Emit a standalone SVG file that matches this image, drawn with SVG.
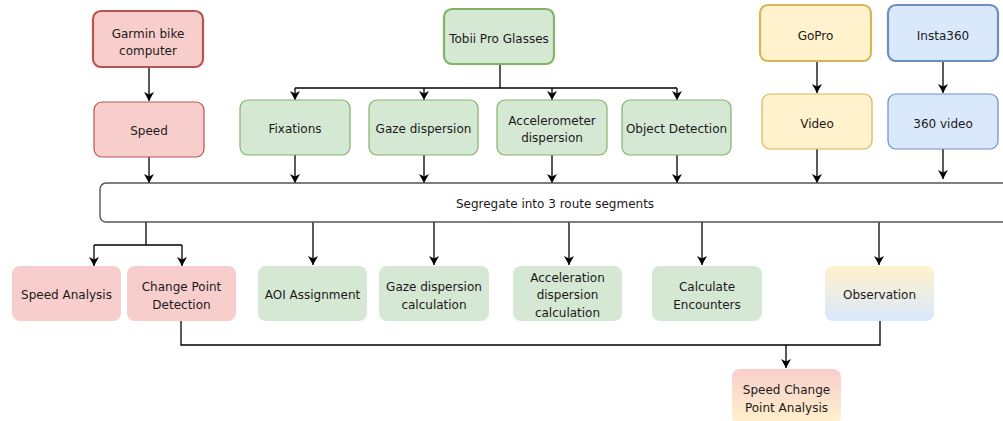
<svg xmlns="http://www.w3.org/2000/svg" width="1003" height="421" viewBox="0 0 1003 421">
<style>
text{font-family:"DejaVu Sans",Verdana,sans-serif;font-size:12px;fill:#1a1a1a;text-anchor:middle}
.red{fill:#f8cecc;stroke:#b85450}
.grn{fill:#d5e8d4;stroke:#82b366}
.yel{fill:#fff2cc;stroke:#d6b656}
.blu{fill:#dae8fc;stroke:#6c8ebf}
.thick{stroke-width:2.2}
.thin{stroke-width:1.2}
.nost{stroke:none}
.c{fill:none;stroke:#000;stroke-width:1.3}
.a{marker-end:url(#arr)}
</style>
<defs>
<marker id="arr" markerUnits="userSpaceOnUse" markerWidth="10" markerHeight="10" refX="9" refY="5" orient="auto">
<path d="M0,0 L9,5 L0,10 L2.5,5 z" fill="#000"/>
</marker>
<linearGradient id="gObs" x1="0" y1="0" x2="0" y2="1"><stop offset="0" stop-color="#fff2cc"/><stop offset="1" stop-color="#dae8fc"/></linearGradient>
<linearGradient id="gScp" x1="0" y1="0" x2="0" y2="1"><stop offset="0" stop-color="#f8cecc"/><stop offset="1" stop-color="#fff2cc"/></linearGradient>
</defs>

<g id="connectors">
<path class="c a" d="M149,67 V101"/>
<path class="c" d="M500,64 V88 M295,88 H677"/>
<path class="c a" d="M295,88 V100"/>
<path class="c a" d="M424,88 V100"/>
<path class="c a" d="M552,88 V100"/>
<path class="c a" d="M677,88 V100"/>
<path class="c a" d="M817,61 V93"/>
<path class="c a" d="M943,61 V93"/>
<path class="c a" d="M149,157 V183"/>
<path class="c a" d="M295,155 V183"/>
<path class="c a" d="M424,155 V183"/>
<path class="c a" d="M552,155 V183"/>
<path class="c a" d="M677,155 V183"/>
<path class="c a" d="M817,149 V183"/>
<path class="c a" d="M943,149 V179"/>
<path class="c" d="M146,222 V245 M94,245 H182"/>
<path class="c a" d="M94,245 V266"/>
<path class="c a" d="M182,245 V266"/>
<path class="c a" d="M313,222 V265"/>
<path class="c a" d="M434,222 V265"/>
<path class="c a" d="M569,222 V265"/>
<path class="c a" d="M702,222 V265"/>
<path class="c a" d="M879,222 V265"/>
<path class="c" d="M181,321 V345 H880 V321"/>
<path class="c a" d="M786,345 V368"/>
</g>

<g id="garmin"><rect class="red thick" x="93" y="11" width="110" height="56" rx="8"/><text x="148" y="37.5">Garmin bike</text><text x="148" y="55">computer</text></g>
<g id="speed"><rect class="red thin" x="94" y="102" width="110" height="55" rx="8"/><text x="149" y="135">Speed</text></g>

<g id="tobii"><rect class="grn thick" x="444" y="9" width="110" height="55" rx="8"/><text x="499" y="42.5">Tobii Pro Glasses</text></g>
<g id="fixations"><rect class="grn thin" x="240" y="100" width="110" height="55" rx="8"/><text x="295" y="132.5">Fixations</text></g>
<g id="gaze"><rect class="grn thin" x="369" y="100" width="109" height="55" rx="8"/><text x="423.5" y="132.5">Gaze dispersion</text></g>
<g id="accel"><rect class="grn thin" x="497" y="100" width="110" height="55" rx="8"/><text x="552" y="124.5">Accelerometer</text><text x="552" y="142">dispersion</text></g>
<g id="object"><rect class="grn thin" x="622" y="100" width="109" height="55" rx="8"/><text x="676.5" y="132.5">Object Detection</text></g>

<g id="gopro"><rect class="yel thick" x="760" y="5" width="111" height="56" rx="8"/><text x="815.5" y="39.5">GoPro</text></g>
<g id="insta"><rect class="blu thick" x="888" y="5" width="110" height="56" rx="8"/><text x="943" y="39.5">Insta360</text></g>
<g id="video"><rect class="yel thin" x="762" y="94" width="110" height="55" rx="8"/><text x="817" y="127.5">Video</text></g>
<g id="video360"><rect class="blu thin" x="888" y="94" width="110" height="55" rx="8"/><text x="943" y="127.5">360 video</text></g>

<g id="segregate"><rect x="100" y="183" width="912" height="39" rx="6" fill="#fff" stroke="#555" stroke-width="1.4"/><text x="555" y="207.5">Segregate into 3 route segments</text></g>

<g id="speedAnalysis"><rect class="red nost" x="12" y="266" width="109" height="55" rx="8"/><text x="66.5" y="298.5">Speed Analysis</text></g>
<g id="cpd"><rect class="red nost" x="127" y="266" width="109" height="55" rx="8"/><text x="181.5" y="290.5">Change Point</text><text x="181.5" y="308.5">Detection</text></g>
<g id="aoi"><rect class="grn nost" x="258" y="266" width="109" height="55" rx="8"/><text x="312.5" y="298.5">AOI Assignment</text></g>
<g id="gazeCalc"><rect class="grn nost" x="379" y="266" width="110" height="55" rx="8"/><text x="434" y="290.5">Gaze dispersion</text><text x="434" y="308.5">calculation</text></g>
<g id="accCalc"><rect class="grn nost" x="513" y="266" width="109" height="55" rx="8"/><text x="567.5" y="281.5">Acceleration</text><text x="567.5" y="298.5">dispersion</text><text x="567.5" y="316.5">calculation</text></g>
<g id="encounters"><rect class="grn nost" x="652" y="266" width="110" height="55" rx="8"/><text x="707" y="290.5">Calculate</text><text x="707" y="308.5">Encounters</text></g>
<g id="observation"><rect x="825" y="266" width="109" height="55" rx="8" fill="url(#gObs)"/><text x="879.5" y="298.5">Observation</text></g>

<g id="scpa"><rect x="732" y="369" width="109" height="55" rx="8" fill="url(#gScp)"/><text x="786.5" y="393.5">Speed Change</text><text x="786.5" y="411.5">Point Analysis</text></g>
</svg>
